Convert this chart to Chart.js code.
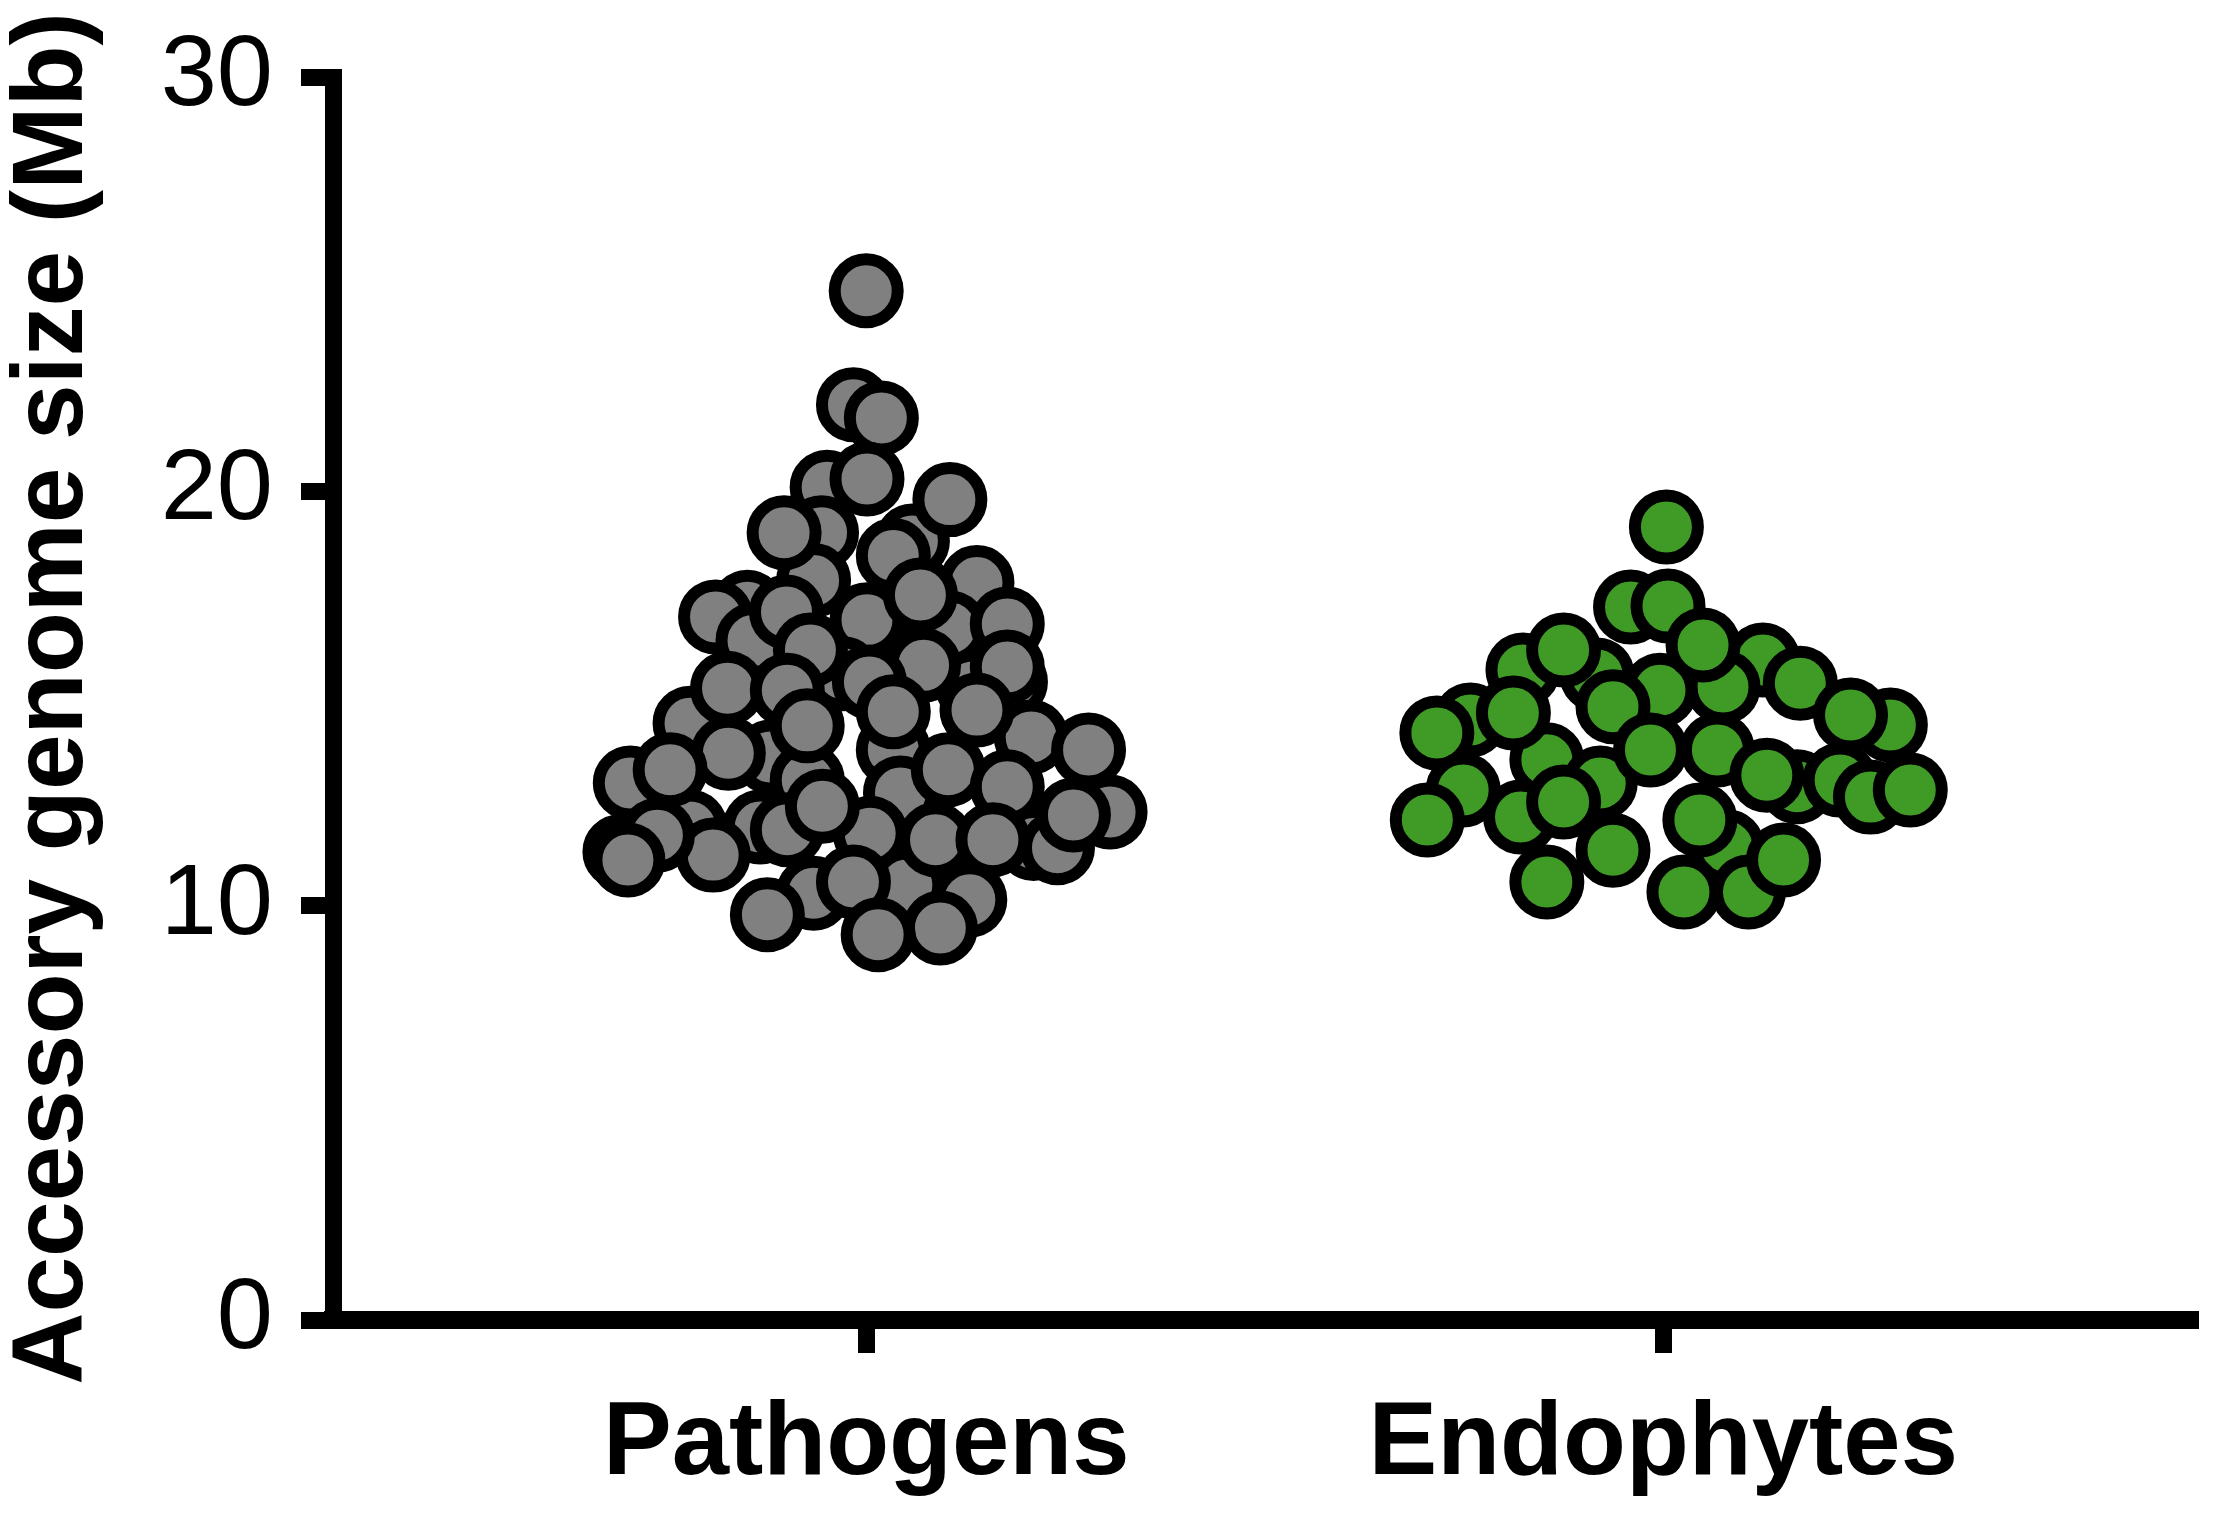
<!DOCTYPE html>
<html lang="en">

<head>
    <meta charset="UTF-8">
    <title>Accessory genome size</title>

    <!-- Chart.js -->
    <script src="https://cdn.jsdelivr.net/npm/chart.js"></script>

    <style>
        body {
            margin: 0;
            background: #ffffff;
        }

        #chart-container {
            width: 2217px;
            height: 1517px;
        }
    </style>
</head>

<body>
    <div id="chart-container">
        <canvas id="chart" width="2217" height="1517"></canvas>
    </div>

    <script type="text/javascript">
        // Categories on the x axis
        const categories = ["Pathogens", "Endophytes"];

        // Y axis ticks
        const yTicks = [0, 10, 20, 30];

        // Pathogens: accessory genome size (Mb) and horizontal swarm offset (category units)
        // points further back in the swarm come first
        const pathogenSizes = [
            20.10, 19.00, 18.80, 17.85, 17.80, 17.20, 16.97, 16.80, 16.70, 16.40, 16.90,
            15.60, 15.28, 14.40, 15.40, 14.07, 13.76, 13.59, 12.96, 13.03, 12.72, 12.26,
            11.90, 11.90, 11.83, 11.75, 11.50, 11.40, 11.30, 11.22, 10.50, 10.30, 10.14,
            24.84, 22.09, 21.77, 20.30, 19.80, 19.00, 18.45, 17.50, 17.09, 16.80, 16.17,
            15.80, 15.76, 15.40, 15.25, 15.20, 14.68, 14.72, 14.34, 13.68, 13.76, 13.28,
            13.28, 12.87, 12.40, 12.19, 11.70, 11.59, 11.59, 11.10, 10.57, 9.78, 9.46, 9.30
        ];
        const pathogenOffsets = [
            -0.049, -0.056, 0.058, -0.066, 0.139, -0.149, -0.189, 0.014, 0.105, -0.142, 0.001,
            -0.029, 0.134, -0.221, 0.181, 0.207, 0.034, -0.120, -0.296, -0.074, 0.043, 0.306,
            -0.221, -0.133, -0.099, 0.005, 0.210, 0.240, -0.309, -0.192, 0.051, -0.066, 0.130,
            0.000, -0.016, 0.019, 0.001, 0.105, -0.103, 0.034, 0.068, -0.100, 0.177, -0.070,
            0.072, 0.177, 0.004, -0.174, -0.099, 0.034, 0.139, -0.074, -0.173, 0.279, -0.246,
            0.103, 0.177, -0.055, 0.260, -0.262, 0.087, 0.159, -0.299, -0.016, -0.124, 0.093, 0.015
        ];

        // Endophytes: accessory genome size (Mb) and horizontal swarm offset
        const endophyteSizes = [
            17.21, 15.69, 15.93, 15.57, 15.28, 15.20, 14.48, 14.17, 14.36, 13.52, 12.96,
            12.87, 13.03, 12.62, 12.79, 12.14, 11.42, 10.33,
            19.14, 17.23, 16.29, 16.17, 15.37, 14.80, 14.65, 14.60, 13.76, 13.76, 13.15,
            12.79, 12.50, 12.07, 12.07, 11.34, 11.10, 10.57, 10.33
        ];
        const endophyteOffsets = [
            -0.041, -0.176, 0.125, -0.083, 0.075, -0.004, -0.242, -0.284, 0.285, -0.146, -0.079,
            0.168, 0.222, 0.260, 0.310, -0.179, 0.080, 0.107,
            0.004, 0.006, 0.050, -0.125, 0.172, -0.063, -0.188, 0.235, -0.016, 0.068, 0.130,
            -0.251, -0.125, -0.296, 0.046, -0.063, 0.151, -0.146, 0.026
        ];

        const fontFamily = "'Liberation Sans', Arial, Helvetica, sans-serif";

        // Build scatter points: category position + swarm offset
        function buildPoints(catIndex, sizes, offsets) {
            return sizes.map((v, i) => ({ x: catIndex + 1 + offsets[i], y: v }));
        }

        const ctx = document.getElementById("chart").getContext("2d");

        new Chart(ctx, {
            type: "scatter",
            data: {
                datasets: [
                    {
                        label: categories[0],
                        data: buildPoints(0, pathogenSizes, pathogenOffsets),
                        backgroundColor: "#808080",
                        borderColor: "#000000",
                        borderWidth: 12,
                        pointRadius: 31.5,
                        pointHoverRadius: 31.5
                    },
                    {
                        label: categories[1],
                        data: buildPoints(1, endophyteSizes, endophyteOffsets),
                        backgroundColor: "#3f9b26",
                        borderColor: "#000000",
                        borderWidth: 12,
                        pointRadius: 31.5,
                        pointHoverRadius: 31.5
                    }
                ]
            },
            options: {
                responsive: false,
                animation: false,
                devicePixelRatio: 1,
                events: [],
                layout: {
                    // no extra room for point overflow, the plot area is fixed
                    autoPadding: false,
                    padding: { top: 77, right: 19, left: 0, bottom: 0 }
                },
                plugins: {
                    legend: { display: false },
                    tooltip: { enabled: false }
                },
                scales: {
                    x: {
                        type: "linear",
                        min: 0.331,
                        max: 2.671,
                        afterBuildTicks: (scale) => {
                            scale.ticks = categories.map((c, i) => ({ value: i + 1 }));
                        },
                        afterFit: (scale) => {
                            // fixed axis band, no auto padding for labels
                            scale.height = 197;
                            scale.paddingLeft = 0;
                            scale.paddingRight = 0;
                        },
                        ticks: {
                            callback: (value) => categories[value - 1],
                            font: { family: fontFamily, size: 103, weight: "bold" },
                            color: "#000000",
                            padding: 31,
                            maxRotation: 0,
                            autoSkip: false
                        },
                        grid: {
                            drawOnChartArea: false,
                            drawTicks: true,
                            tickLength: 33,
                            tickWidth: 17,
                            tickColor: "#000000"
                        },
                        border: { display: true, width: 18, color: "#000000" }
                    },
                    y: {
                        min: 0,
                        max: 30,
                        afterBuildTicks: (scale) => {
                            scale.ticks = yTicks.map(v => ({ value: v }));
                        },
                        afterFit: (scale) => {
                            scale.width = 333;
                            scale.paddingTop = 0;
                            scale.paddingBottom = 0;
                        },
                        ticks: {
                            font: { family: fontFamily, size: 101 },
                            color: "#000000",
                            padding: 28
                        },
                        grid: {
                            drawOnChartArea: false,
                            drawTicks: true,
                            tickLength: 32,
                            tickWidth: 17,
                            tickColor: "#000000"
                        },
                        border: { display: true, width: 17, color: "#000000" },
                        title: {
                            display: true,
                            text: "Accessory genome size (Mb)",
                            color: "#000000",
                            font: { family: fontFamily, size: 100, weight: "bold", lineHeight: 1 },
                            padding: { top: 4, bottom: 0 }
                        }
                    }
                }
            }
        });
    </script>
</body>

</html>
